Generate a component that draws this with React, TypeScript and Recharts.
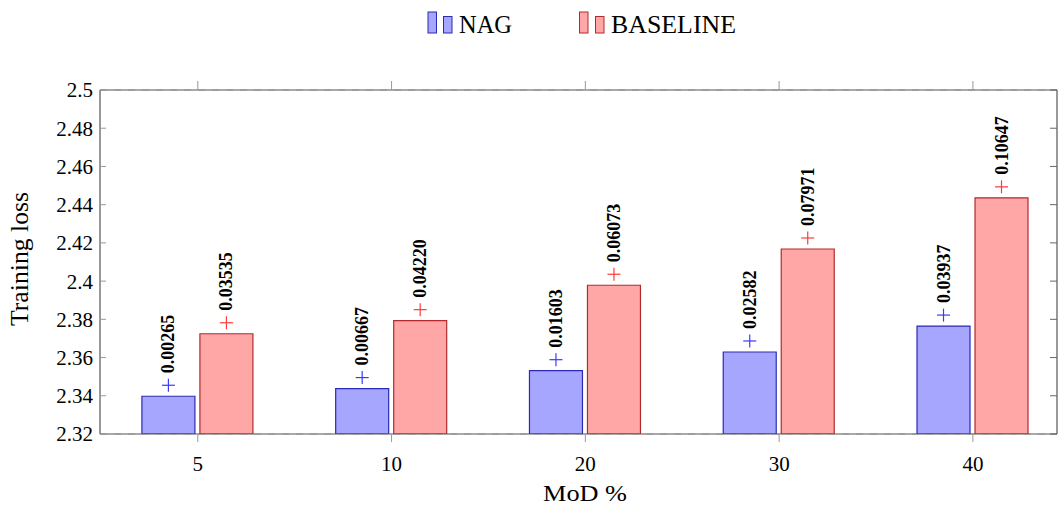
import React from 'react';
import { ComposedChart, Bar, XAxis, YAxis, CartesianGrid, Legend, LabelList } from 'recharts';

// MoD percentages on the x axis
const categories = ['5', '10', '20', '30', '40'];
// training loss per run
const nagLoss = [2.33975, 2.34377, 2.35313, 2.36292, 2.37647];
const baselineLoss = [2.37245, 2.3793, 2.39783, 2.41681, 2.44357];
// increase over the reference loss, printed above each bar
const nagGain = ['0.00265', '0.00667', '0.01603', '0.02582', '0.03937'];
const baselineGain = ['0.03535', '0.04220', '0.06073', '0.07971', '0.10647'];
const yTicks = [2.32, 2.34, 2.36, 2.38, 2.4, 2.42, 2.44, 2.46, 2.48, 2.5];

const data = categories.map((c, i) => ({
  idx: i,
  mod: c,
  nag: nagLoss[i],
  baseline: baselineLoss[i],
  nagGain: nagGain[i],
  baselineGain: baselineGain[i],
}));

const FONT = '"Liberation Serif", "Times New Roman", serif';
const NAG_FILL = '#a6a6ff';
const NAG_STROKE = '#2a2ab4';
const BASE_FILL = '#ffa6a6';
const BASE_STROKE = '#b42a2a';
const FRAME = '#555';
const X_DOMAIN = [-0.5047, 4.434];

const makeBarLabel = (markColor: string) => (props: any) => {
  const { x, y, width, value } = props;
  const cx = Number(x) + Number(width) / 2;
  const top = Number(y);
  const my = top - 11;
  return (
    <g>
      <line x1={cx - 6.5} x2={cx + 6.5} y1={my} y2={my} stroke={markColor} strokeWidth={1.2} />
      <line x1={cx} x2={cx} y1={my - 6.5} y2={my + 6.5} stroke={markColor} strokeWidth={1.2} />
      <text
        transform={`translate(${cx}, ${top - 23}) rotate(-90)`}
        dominantBaseline="central"
        textAnchor="start"
        fontWeight="bold"
        fontSize={18}
        fill="#000"
      >
        {value}
      </text>
    </g>
  );
};

const LegendBox = () => (
  <svg width={1058} height={45} style={{ display: 'block' }}>
    <rect x={428} y={12} width={8.5} height={21} fill={NAG_FILL} stroke={NAG_STROKE} />
    <rect x={443.5} y={16.5} width={8.5} height={16.5} fill={NAG_FILL} stroke={NAG_STROKE} />
    <text x={459} y={33} fontSize={25} textLength={53} lengthAdjust="spacingAndGlyphs" fill="#000">NAG</text>
    <rect x={579.5} y={12} width={8.5} height={21} fill={BASE_FILL} stroke={BASE_STROKE} />
    <rect x={595.5} y={16.5} width={8.5} height={16.5} fill={BASE_FILL} stroke={BASE_STROKE} />
    <text x={611} y={33} fontSize={25} textLength={125} lengthAdjust="spacingAndGlyphs" fill="#000">BASELINE</text>
  </svg>
);

const YTitle = () => (
  <text
    transform="rotate(-90, 28, 259)"
    x={28}
    y={259}
    textAnchor="middle"
    fontSize={25}
    textLength={134}
    lengthAdjust="spacingAndGlyphs"
    fill="#000"
  >
    Training loss
  </text>
);

const XTitle = () => (
  <text
    x={585}
    y={501}
    textAnchor="middle"
    fontSize={24}
    textLength={84}
    lengthAdjust="spacingAndGlyphs"
    fill="#000"
  >
    MoD %
  </text>
);

const fmtY = (v: number) => String(Number(v.toFixed(2)));
const fmtX = (v: number) => categories[Math.round(v)] ?? '';
const noTick = () => <g />;

export default function App() {
  return (
    <div style={{ width: 1058, height: 508, fontFamily: FONT, background: '#fff' }}>
      <style>{`body{margin:0} svg text{font-family:${FONT} !important}`}</style>
      <ComposedChart
        width={1058}
        height={508}
        data={data}
        margin={{ top: 44, right: 1, bottom: 34, left: 0 }}
        barGap={5}
      >
        <CartesianGrid vertical={false} stroke="#cfcfcf" strokeDasharray="7 7" />
        <XAxis
          xAxisId="bottom"
          dataKey="idx"
          type="number"
          domain={X_DOMAIN}
          ticks={[0, 1, 2, 3, 4]}
          tickFormatter={fmtX}
          allowDataOverflow
          height={40}
          axisLine={{ stroke: FRAME, strokeWidth: 1.2 }}
          tickLine={{ stroke: '#999' }}
          tickSize={8}
          tickMargin={14}
          tick={{ fill: '#000', fontSize: 21 }}
          label={<XTitle />}
        />
        <XAxis
          xAxisId="top"
          dataKey="idx"
          type="number"
          orientation="top"
          domain={X_DOMAIN}
          ticks={[0, 1, 2, 3, 4]}
          allowDataOverflow
          height={1}
          axisLine={{ stroke: FRAME, strokeWidth: 1.2 }}
          tickLine={{ stroke: '#999' }}
          tickSize={9}
          tick={noTick}
        />
        <YAxis
          yAxisId="left"
          domain={[2.32, 2.5]}
          ticks={yTicks}
          tickFormatter={fmtY}
          allowDataOverflow
          width={100}
          axisLine={{ stroke: FRAME, strokeWidth: 1.2 }}
          tickLine={false}
          tickSize={0}
          tickMargin={7}
          tick={{ fill: '#000', fontSize: 21 }}
          label={<YTitle />}
        />
        <YAxis
          yAxisId="leftTicks"
          orientation="left"
          mirror
          domain={[2.32, 2.5]}
          ticks={yTicks}
          allowDataOverflow
          width={1}
          axisLine={false}
          tickLine={{ stroke: '#999' }}
          tickSize={6}
          tick={noTick}
        />
        <YAxis
          yAxisId="right"
          orientation="right"
          mirror
          domain={[2.32, 2.5]}
          ticks={yTicks}
          allowDataOverflow
          width={1}
          axisLine={{ stroke: FRAME, strokeWidth: 1.2 }}
          tickLine={{ stroke: '#666' }}
          tickSize={7}
          tick={noTick}
        />
        <Legend verticalAlign="top" wrapperStyle={{ top: 0, left: 0, width: 1058, height: 45 }} content={<LegendBox />} />
        <Bar
          xAxisId="bottom"
          yAxisId="left"
          dataKey="nag"
          name="NAG"
          barSize={53}
          fill={NAG_FILL}
          stroke={NAG_STROKE}
          strokeWidth={1.2}
          isAnimationActive={false}
        >
          <LabelList dataKey="nagGain" content={makeBarLabel('#3a3aff')} />
        </Bar>
        <Bar
          xAxisId="bottom"
          yAxisId="left"
          dataKey="baseline"
          name="BASELINE"
          barSize={53}
          fill={BASE_FILL}
          stroke={BASE_STROKE}
          strokeWidth={1.2}
          isAnimationActive={false}
        >
          <LabelList dataKey="baselineGain" content={makeBarLabel('#ff3a3a')} />
        </Bar>
      </ComposedChart>
    </div>
  );
}
